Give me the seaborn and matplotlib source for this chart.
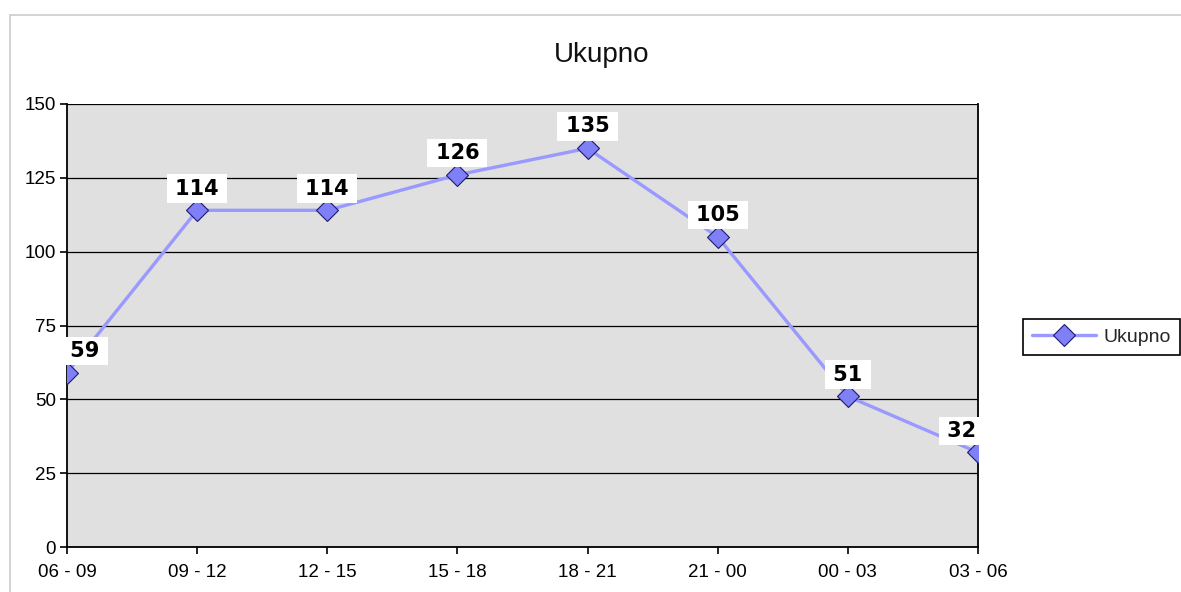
import matplotlib
matplotlib.use("Agg")
import matplotlib.pyplot as plt
import seaborn as sns
import pandas as pd
from matplotlib.lines import Line2D

# data
periods = ["06 - 09", "09 - 12", "12 - 15", "15 - 18", "18 - 21", "21 - 00", "00 - 03", "03 - 06"]
counts = [59, 114, 114, 126, 135, 105, 51, 32]
series_name = "Ukupno"

df = pd.DataFrame({"period": periods, "count": counts})
df["pos"] = range(len(df))

sns.set_theme(style="white")
plt.rcParams["font.family"] = ["Liberation Sans", "DejaVu Sans"]

W, H = 1181, 592
fig = plt.figure(figsize=(W / 100, H / 100), dpi=100)
ax = fig.add_axes([67 / W, 1 - 547 / H, (978 - 67) / W, (547 - 104) / H])
ax.set_facecolor("#e0e0e0")

sns.lineplot(data=df, x="pos", y="count", ax=ax, color="#9999ff", linewidth=2.4,
             marker="D", markersize=11, markerfacecolor="#7f7ff7",
             markeredgecolor="#1c1c6e", markeredgewidth=0.8, label=series_name,
             sort=False, zorder=3)

ax.set_xlim(0, len(periods) - 1)
ax.set_ylim(0, 150)
ax.set_yticks(range(0, 151, 25))
ax.set_xticks(df["pos"])
ax.set_xticklabels(periods)
ax.set_xlabel("")
ax.set_ylabel("")
ax.yaxis.grid(True, color="black", linewidth=0.9)
ax.xaxis.grid(False)
ax.set_axisbelow(True)
for s in ["left", "bottom", "right"]:
    ax.spines[s].set_color("black")
    ax.spines[s].set_linewidth(1.3)
ax.spines["top"].set_visible(False)
ax.tick_params(axis="both", which="both", direction="out", length=5, width=1.2,
               color="black", labelsize=13.5, labelcolor="black")
ax.tick_params(axis="x", pad=7, bottom=True)
ax.tick_params(axis="y", pad=3, left=True)

# value labels
offsets = {0: 13, len(counts) - 1: -12}
for i, v in enumerate(counts):
    ax.annotate(f"\u2009{v}\u2009", (i, v), xytext=(offsets.get(i, 0), 8.5), textcoords="offset points",
                ha="center", va="bottom", fontsize=15, fontweight="bold",
                family="DejaVu Sans", color="black", zorder=5,
                bbox=dict(boxstyle="square,pad=0.2", fc="white", ec="none"))

fig.text(602 / W, 1 - 55 / H, series_name, ha="center", va="center", fontsize=20, color="#111111")

leg = ax.legend(loc="center left", bbox_to_anchor=(1023 / W, 1 - 337 / H),
                bbox_transform=fig.transFigure, frameon=True, fancybox=False,
                edgecolor="black", framealpha=1, fontsize=14, handlelength=3.3,
                handletextpad=0.4, borderpad=0.45, borderaxespad=0)
leg.get_frame().set_linewidth(1.2)

# chart area border
fig.add_artist(Line2D([10 / W, 10 / W], [0, 1 - 15 / H], transform=fig.transFigure,
                      color="#cccccc", linewidth=1.2))
fig.add_artist(Line2D([10 / W, 1], [1 - 15 / H, 1 - 15 / H], transform=fig.transFigure,
                      color="#cccccc", linewidth=1.2))

fig.savefig("out.png", dpi=100)
